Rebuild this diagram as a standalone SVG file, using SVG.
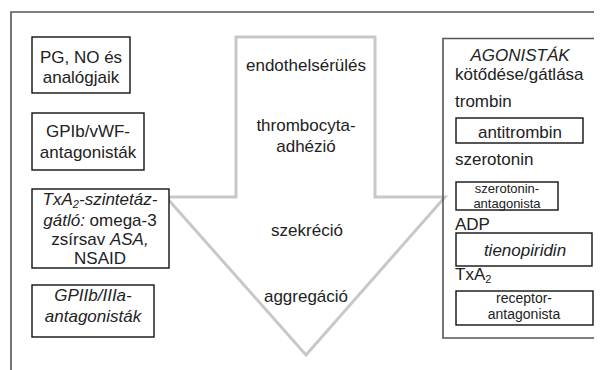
<svg xmlns="http://www.w3.org/2000/svg" width="607" height="370" viewBox="0 0 607 370">
<style>
text{font-family:"Liberation Sans",Arial,sans-serif;font-size:17px;fill:#222}
.c{text-anchor:middle}
.i{font-style:italic}
.t{font-size:14px}
.s{font-size:13px}
.box{fill:#fff;stroke:#111;stroke-width:1.4}
.frame{fill:none;stroke:#555;stroke-width:1.6}
.arrow{fill:#fff;stroke:#c8c8c8;stroke-width:3;stroke-linejoin:miter}
.sub{font-size:11px}
</style>
<rect width="607" height="370" fill="#fff"/>
<path class="frame" d="M11,370 V12 H594"/>
<g id="arrow">
<polygon class="arrow" points="236,37 375,37 375,197 445,197 306,355 166,197 236,197"/>
<text class="c" x="306" y="71">endothelsérülés</text>
<text class="c" x="306" y="131">thrombocyta-</text>
<text class="c" x="306" y="152">adhézió</text>
<text class="c" x="307" y="236">szekréció</text>
<text class="c" x="306" y="302">aggregáció</text>
</g>
<g id="pg-no">
<rect class="box" x="32" y="37" width="98" height="56"/>
<text class="c" x="81" y="63">PG, NO és</text>
<text class="c" x="81" y="83">analógjaik</text>
</g>
<g id="gpib">
<rect class="box" x="32" y="113" width="112" height="57"/>
<text class="c" x="88" y="137">GPIb/vWF-</text>
<text class="c" x="88" y="158">antagonisták</text>
</g>
<g id="txa2-szintetaz">
<rect class="box" x="32" y="189" width="137" height="79"/>
<text class="c i" x="100" y="205">TxA<tspan class="sub" dy="3">2</tspan><tspan dy="-3">-szintetáz-</tspan></text>
<text class="c" x="100" y="226"><tspan class="i">gátló:</tspan> omega-3</text>
<text class="c" x="100" y="245">zsírsav <tspan class="i">ASA,</tspan></text>
<text class="c" x="100" y="264">NSAID</text>
</g>
<g id="gpiib">
<rect class="box" x="32" y="285" width="122" height="52"/>
<text class="c i" x="93" y="301">GPIIb/IIIa-</text>
<text class="c i" x="93" y="322">antagonisták</text>
</g>
<g id="agonistak">
<path class="frame" d="M594,38.5 H443 V338 H594"/>
<text class="c i" x="520" y="61">AGONISTÁK</text>
<text x="455" y="80">kötődése/gátlása</text>
<text x="455" y="107">trombin</text>
<text x="455" y="165">szerotonin</text>
<text x="455" y="230">ADP</text>
<text x="455" y="280">TxA<tspan class="sub" dy="3">2</tspan></text>
</g>
<g id="antitrombin">
<rect class="box" x="456" y="118" width="127" height="25"/>
<text class="c" x="520" y="138">antitrombin</text>
</g>
<g id="szerotonin-antagonista">
<rect class="box" x="456" y="182" width="102" height="28"/>
<text class="c s" x="507" y="193">szerotonin-</text>
<text class="c s" x="507" y="208">antagonista</text>
</g>
<g id="tienopiridin">
<rect class="box" x="456" y="233" width="136" height="33"/>
<text class="c i" x="525" y="256">tienopiridin</text>
</g>
<g id="receptor-antagonista">
<rect class="box" x="456" y="291" width="137" height="34"/>
<text class="c t" x="524" y="303">receptor-</text>
<text class="c t" x="524" y="319">antagonista</text>
</g>
<g id="connectors"></g>
</svg>
